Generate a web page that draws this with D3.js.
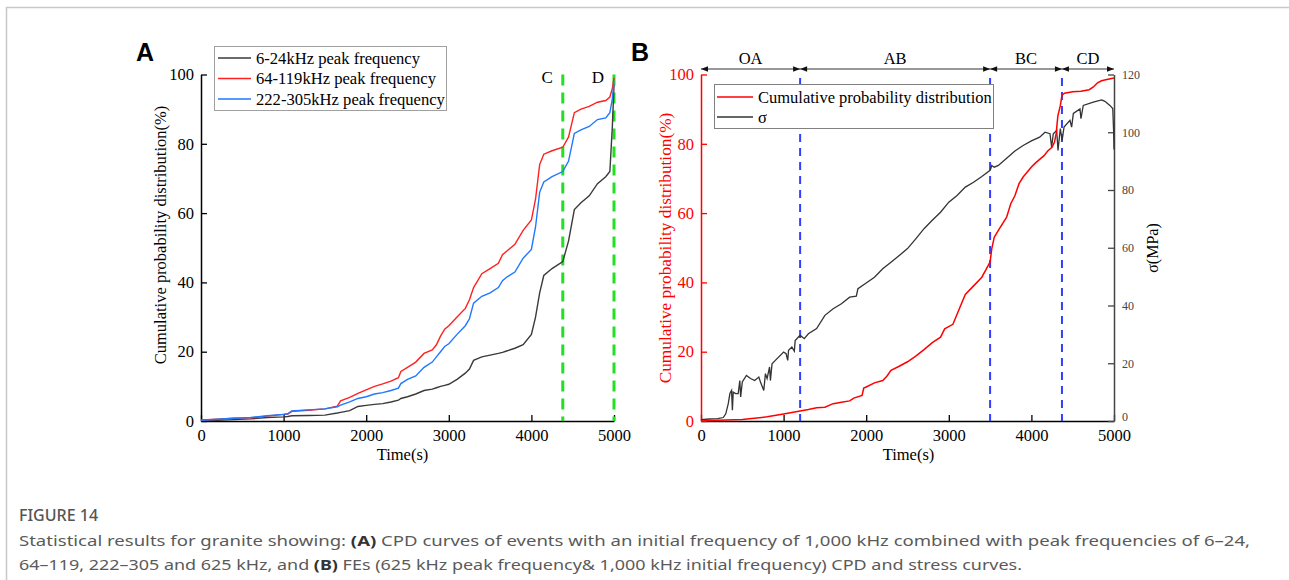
<!DOCTYPE html>
<html><head><meta charset="utf-8">
<script src="https://cdn.jsdelivr.net/npm/d3@7/dist/d3.min.js"></script>
<style>
body{margin:0;background:#fff;}
svg text{font-family:"Liberation Serif","Times New Roman",serif;}
</style></head>
<body>
<svg id="chart" width="1289" height="580"></svg>
<script>
// ---------- DATA ----------
const seriesNamesA = ["6-24kHz peak frequency","64-119kHz peak frequency","222-305kHz peak frequency"];
const lowFreqA = [[0,0.1],[200,0.2],[400,0.4],[600,0.6],[800,1.0],[1000,1.2],[1050,1.3],[1100,1.5],[1300,1.6],[1500,1.7],[1650,2.3],[1690,2.5],[1800,3.0],[1900,4.2],[2000,4.5],[2100,4.8],[2200,5.0],[2300,5.5],[2390,6.0],[2420,6.5],[2500,7.0],[2600,7.8],[2700,8.8],[2800,9.2],[2850,9.6],[2900,10],[2950,10.3],[3000,10.6],[3100,12],[3200,13.8],[3250,15],[3300,17.5],[3400,18.5],[3500,19],[3600,19.5],[3650,19.8],[3700,20.2],[3800,21],[3900,22],[4000,25],[4050,30],[4100,37],[4150,42],[4250,44],[4380,46],[4450,52],[4520,61],[4600,63],[4700,65],[4800,68.5],[4900,70.5],[4950,72],[4980,85],[5000,97]];
const midFreqA = [[0,0.3],[200,0.5],[400,0.8],[600,0.9],[800,1.4],[1000,1.9],[1050,2.0],[1100,2.8],[1300,3.1],[1500,3.5],[1650,4.3],[1690,5.8],[1800,6.8],[1900,8],[2000,9],[2100,10],[2200,10.7],[2300,11.5],[2390,12.5],[2420,14.3],[2500,15.5],[2600,17],[2700,19.5],[2800,20.5],[2850,22],[2900,24.5],[2950,26.5],[3000,27.5],[3100,30],[3200,32.5],[3250,35],[3300,38.5],[3400,42.5],[3500,44],[3600,45.5],[3650,48],[3700,49],[3800,51],[3900,55],[4000,58],[4050,64],[4100,74],[4150,77],[4250,78],[4380,79],[4450,82],[4520,89],[4600,90],[4700,90.8],[4800,92],[4900,92.5],[4950,93.5],[4980,96],[5000,99]];
const highFreqA = [[0,0.2],[200,0.5],[400,0.8],[600,1.0],[800,1.5],[1000,1.9],[1050,2.1],[1100,2.9],[1300,3.2],[1500,3.5],[1650,4.1],[1690,4.6],[1800,5.5],[1900,6.5],[2000,7],[2100,7.8],[2200,8.2],[2300,8.8],[2390,9.5],[2420,10.8],[2500,12],[2600,13],[2700,15.5],[2800,17],[2850,18.5],[2900,20],[2950,21.5],[3000,22.3],[3100,25],[3200,27.5],[3250,29.5],[3300,34],[3400,36],[3500,37],[3600,38.5],[3650,40.5],[3700,41.5],[3800,43],[3900,47],[4000,49.5],[4050,56],[4100,66],[4150,69],[4250,70.5],[4380,72],[4450,75],[4520,83],[4600,84],[4700,85],[4800,87],[4900,87.5],[4950,89],[4980,93],[5000,98]];
const markersA = [{t:4380,label:"C"},{t:5000,label:"D"}];

const seriesNamesB = ["Cumulative probability distribution","σ"];
const cpdB = [[0,0],[200,0.2],[500,0.4],[800,1.2],[1000,2],[1200,2.9],[1300,3.3],[1400,3.8],[1500,4],[1600,5],[1700,5.4],[1800,5.8],[1850,6.6],[1950,7.4],[1970,9.5],[2000,9.8],[2100,11],[2200,11.7],[2250,12.9],[2300,14.6],[2400,15.8],[2500,17.1],[2600,18.7],[2700,20.6],[2800,22.6],[2900,24.2],[2950,26.6],[3050,27.9],[3100,30.8],[3150,33.7],[3200,36.5],[3300,39],[3400,41.5],[3450,43.7],[3500,45.9],[3520,49.7],[3550,53],[3600,55],[3700,58.8],[3750,62.7],[3800,65],[3850,68.5],[3900,70.4],[4000,73.3],[4050,74.5],[4100,75.5],[4150,76.5],[4200,78],[4250,79],[4280,80.5],[4300,83],[4320,88],[4350,91],[4370,94],[4400,94.6],[4500,95],[4600,95.2],[4700,95.6],[4750,96.4],[4800,97.6],[4850,98.2],[4900,98.5],[5000,99]];
const stressB = [[0,0.5],[100,0.7],[200,0.8],[270,1.2],[300,2.5],[330,6],[350,9.5],[370,10.6],[380,3.7],[390,10],[420,9.5],[450,9.5],[470,14],[480,8.3],[500,13.5],[550,15.8],[600,14.7],[650,14],[700,15.2],[720,13.5],[760,10.6],[780,16.4],[800,14.7],[830,18.7],[840,14],[860,19.8],[900,21],[1000,23.9],[1030,23.3],[1050,21],[1060,24.5],[1100,25.6],[1130,24.2],[1140,27.9],[1200,29.7],[1250,28.5],[1300,30.2],[1400,32],[1500,36.6],[1600,38.9],[1700,40.6],[1800,42.9],[1880,43.2],[1900,45.8],[2000,47.8],[2100,49.8],[2200,52.7],[2300,55],[2400,57.3],[2500,59.7],[2600,63.1],[2700,66.6],[2800,69.5],[2900,72.3],[3000,75.8],[3100,78.1],[3200,81],[3300,82.7],[3400,84.7],[3500,86.8],[3520,88.5],[3550,87.9],[3600,88.5],[3700,91],[3800,93.5],[3900,95.4],[4000,97],[4100,98.3],[4165,100],[4225,99.5],[4245,94.9],[4265,99.5],[4306,100.6],[4322,93.7],[4350,101.3],[4372,97.2],[4395,101.8],[4467,104.1],[4487,101.8],[4508,106.5],[4588,108.1],[4600,104.7],[4628,109.3],[4749,110.4],[4850,111.2],[4890,110.7],[4950,109.3],[4985,108.2],[4995,100.6],[5000,94]];
const stageBounds = [0,1200,3500,4370,5000];
const stageLabels = ["OA","AB","BC","CD"];

const xTicks = [0,1000,2000,3000,4000,5000];
const cpdTicks = [0,20,40,60,80,100];
const stressTicks = [0,20,40,60,80,100,120];

const captionTitle = "FIGURE 14";
const captionLine1 = [["Statistical results for granite showing: ",false],["(A)",true],[" CPD curves of events with an initial frequency of 1,000 kHz combined with peak frequencies of 6–24,",false]];
const captionLine2 = [["64–119, 222–305 and 625 kHz, and ",false],["(B)",true],[" FEs (625 kHz peak frequency& 1,000 kHz initial frequency) CPD and stress curves.",false]];

// ---------- LAYOUT ----------
const svg = d3.select("#chart");
const A = {x0:201, x1:614, y0:421, y1:74.5};
const B = {x0:701, x1:1114, y0:421, y1:74.5};
const colBlack="#3a3a3a", colRed="#ff2020", colBlue="#1f78ff";

// frame
svg.append("line").attr("x1",6).attr("x2",1289).attr("y1",7.5).attr("y2",7.5).attr("stroke","#c8c8c8").attr("stroke-width",1.5);
svg.append("line").attr("x1",6.5).attr("x2",6.5).attr("y1",7).attr("y2",580).attr("stroke","#c8c8c8").attr("stroke-width",1.5);

function styleAxis(g, color, size){
  g.select(".domain").attr("stroke",color).attr("stroke-width",1.5);
  g.selectAll(".tick line").attr("stroke",color).attr("stroke-width",1.3);
  g.selectAll(".tick text").attr("fill",color).style("font-family",'"Liberation Serif",serif').style("font-size",size+"px");
}

// ---------- PANEL A ----------
const xA = d3.scaleLinear().domain([0,5000]).range([A.x0,A.x1]);
const yA = d3.scaleLinear().domain([0,100]).range([A.y0,A.y1]);

const gxA = svg.append("g").attr("transform",`translate(0,${A.y0})`)
  .call(d3.axisBottom(xA).tickValues(xTicks).tickFormat(d3.format("d")).tickSize(-6).tickSizeOuter(0).tickPadding(8));
styleAxis(gxA,"#000",16.5);
gxA.selectAll(".tick text").attr("y",8).attr("dy","0.71em");
const gyA = svg.append("g").attr("transform",`translate(${A.x0},0)`)
  .call(d3.axisLeft(yA).tickValues(cpdTicks).tickSize(-6).tickSizeOuter(0).tickPadding(7));
styleAxis(gyA,"#000",16.5);

// green markers
markersA.forEach(m=>{
  svg.append("line").attr("x1",xA(m.t)).attr("x2",xA(m.t)).attr("y1",yA(100)).attr("y2",A.y0)
    .attr("stroke","#22e022").attr("stroke-width",3).attr("stroke-dasharray","11,7");
  svg.append("text").attr("x",xA(m.t)-10).attr("y",yA(100)+8).attr("text-anchor","end")
    .style("font-size","17px").attr("fill","#000").text(m.label);
});

const lineA = d3.line().x(d=>xA(d[0])).y(d=>yA(d[1]));
[[lowFreqA,colBlack],[midFreqA,colRed],[highFreqA,colBlue]].forEach(([d,c])=>{
  svg.append("path").datum(d).attr("d",lineA).attr("fill","none").attr("stroke",c).attr("stroke-width",1.4);
});

// legend A
const legA = svg.append("g");
legA.append("rect").attr("x",214.5).attr("y",46.5).attr("width",232).attr("height",64).attr("fill","#fff").attr("stroke","#a0a0a0").attr("stroke-width",1);
[colBlack,colRed,colBlue].forEach((c,i)=>{
  const yy = 58 + i*20.5;
  legA.append("line").attr("x1",218).attr("x2",251).attr("y1",yy).attr("y2",yy).attr("stroke",c).attr("stroke-width",1.5);
  legA.append("text").attr("x",256).attr("y",yy+5.5).style("font-size","16.6px").text(seriesNamesA[i]);
});

svg.append("text").attr("x",(A.x0+A.x1)/2-5).attr("y",460).attr("text-anchor","middle").style("font-size","16.5px").text("Time(s)");
svg.append("text").attr("transform",`translate(166,235) rotate(-90)`).attr("text-anchor","middle").style("font-size","16.5px").text("Cumulative probability distribution(%)");
svg.append("text").attr("x",136).attr("y",61).style("font-family",'"Liberation Sans",Arial,sans-serif').style("font-weight","bold").style("font-size","25px").text("A");

// ---------- PANEL B ----------
const xB = d3.scaleLinear().domain([0,5000]).range([B.x0,B.x1]);
const yB = d3.scaleLinear().domain([0,100]).range([B.y0,B.y1]);
const sB = d3.scaleLinear().domain([0,120]).range([B.y0,B.y1]);

const gxB = svg.append("g").attr("transform",`translate(0,${B.y0})`)
  .call(d3.axisBottom(xB).tickValues(xTicks).tickFormat(d3.format("d")).tickSize(-6).tickSizeOuter(0).tickPadding(8));
styleAxis(gxB,"#000",16.5);
gxB.selectAll(".tick text").attr("y",8).attr("dy","0.71em");
const gyB = svg.append("g").attr("transform",`translate(${B.x0},0)`)
  .call(d3.axisLeft(yB).tickValues(cpdTicks).tickSize(-6).tickSizeOuter(0).tickPadding(7));
styleAxis(gyB,"#ff0000",16.5);
const gsB = svg.append("g").attr("transform",`translate(${B.x1},0)`)
  .call(d3.axisRight(sB).tickValues(stressTicks).tickSize(-6).tickSizeOuter(0).tickPadding(8));
styleAxis(gsB,"#444",12);
// lift the bottom "0" of the stress axis slightly so it clears the "5000" label
gsB.selectAll(".tick text").filter(d=>d===0).attr("dy","-0.05em");

// stage dashed lines
stageBounds.slice(1,-1).forEach(t=>{
  svg.append("line").attr("x1",xB(t)).attr("x2",xB(t)).attr("y1",78).attr("y2",B.y0)
    .attr("stroke","#3040ff").attr("stroke-width",2).attr("stroke-dasharray","8,6");
});

// stage arrows
const arrowY = 69;
svg.append("line").attr("x1",xB(0)).attr("x2",xB(5000)).attr("y1",arrowY).attr("y2",arrowY).attr("stroke","#333").attr("stroke-width",1);
stageLabels.forEach((lab,i)=>{
  const a = xB(stageBounds[i]), b = xB(stageBounds[i+1]);
  svg.append("path").attr("d",`M${a},${arrowY}L${a+7},${arrowY-2.7}L${a+7},${arrowY+2.7}Z`).attr("fill","#111");
  svg.append("path").attr("d",`M${b},${arrowY}L${b-7},${arrowY-2.7}L${b-7},${arrowY+2.7}Z`).attr("fill","#111");
  svg.append("text").attr("x",(a+b)/2).attr("y",arrowY-5).attr("text-anchor","middle").style("font-size","16.5px").text(lab);
});

svg.append("path").datum(stressB).attr("d",d3.line().x(d=>xB(d[0])).y(d=>sB(d[1])))
  .attr("fill","none").attr("stroke","#333").attr("stroke-width",1.3);
svg.append("path").datum(cpdB).attr("d",d3.line().x(d=>xB(d[0])).y(d=>yB(d[1])))
  .attr("fill","none").attr("stroke","#ff0000").attr("stroke-width",1.5);

// legend B
const legB = svg.append("g");
legB.append("rect").attr("x",714.5).attr("y",84.5).attr("width",279).attr("height",44).attr("fill","#fff").attr("stroke","#808080").attr("stroke-width",1);
[["#ff0000"],["#333"]].forEach(([c],i)=>{
  const yy = 97 + i*20;
  legB.append("line").attr("x1",717).attr("x2",753).attr("y1",yy).attr("y2",yy).attr("stroke",c).attr("stroke-width",1.5);
  legB.append("text").attr("x",758).attr("y",yy+5.5).style("font-size","16.5px").text(seriesNamesB[i]);
});

svg.append("text").attr("x",(B.x0+B.x1)/2+1).attr("y",460).attr("text-anchor","middle").style("font-size","16.5px").text("Time(s)");
svg.append("text").attr("transform",`translate(671,248) rotate(-90)`).attr("text-anchor","middle").attr("fill","#ff0000").style("font-size","17.3px").text("Cumulative probability distribution(%)");
svg.append("text").attr("transform",`translate(1158,248) rotate(-90)`).attr("text-anchor","middle").style("font-size","16px").text("σ(MPa)");
svg.append("text").attr("x",631).attr("y",61).style("font-family",'"Liberation Sans",Arial,sans-serif').style("font-weight","bold").style("font-size","25px").text("B");

// ---------- CAPTION ----------
const capFont = '"Noto Sans","Open Sans",sans-serif';
svg.append("text").attr("x",19).attr("y",521).style("font-family",capFont).style("font-size","16px").style("font-weight","500").attr("fill","#555").text(captionTitle);
function capLine(parts,y,len){
  const t = svg.append("text").attr("x",19).attr("y",y).style("font-family",capFont).style("font-size","15px").attr("fill","#5a5a5a")
    .attr("textLength",len).attr("lengthAdjust","spacingAndGlyphs");
  parts.forEach(([s,b])=>{ t.append("tspan").style("font-weight",b?"bold":"normal").attr("fill",b?"#333":"#5a5a5a").text(s); });
}
capLine(captionLine1,546,1231);
capLine(captionLine2,570,1003);
</script>
</body></html>
